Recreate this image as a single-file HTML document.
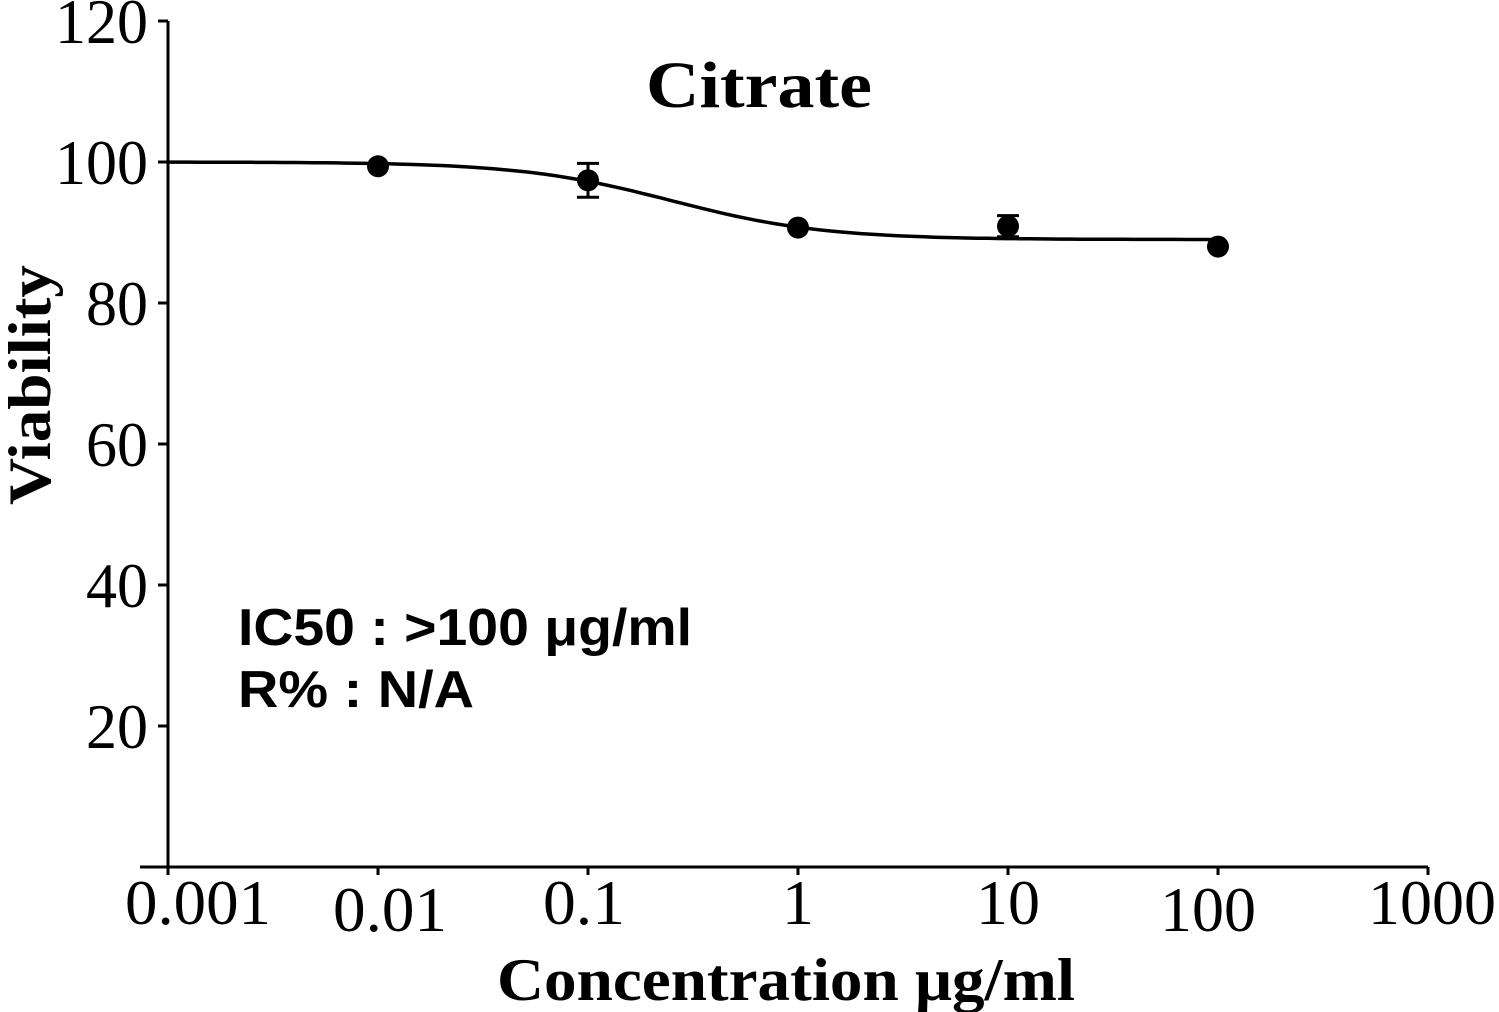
<!DOCTYPE html>
<html><head><meta charset="utf-8"><style>
html,body{margin:0;padding:0;background:#fff;}
svg{display:block;}
</style></head><body>
<svg id="chart" width="1499" height="1012" xmlns="http://www.w3.org/2000/svg">
<g id="axes"></g>
<g id="marks"></g>
<text x="759" y="107" text-anchor="middle" font-family="Liberation Serif, serif" font-weight="bold" font-size="66" textLength="226" lengthAdjust="spacingAndGlyphs">Citrate</text>
<text x="786" y="1000" text-anchor="middle" font-family="Liberation Serif, serif" font-weight="bold" font-size="60" textLength="578" lengthAdjust="spacingAndGlyphs">Concentration μg/ml</text>
<text transform="translate(50,385) rotate(-90)" text-anchor="middle" font-family="Liberation Serif, serif" font-weight="bold" font-size="60" textLength="240" lengthAdjust="spacingAndGlyphs">Viability</text>
<text x="238" y="645" font-family="Liberation Sans, sans-serif" font-weight="bold" font-size="52" textLength="454" lengthAdjust="spacingAndGlyphs">IC50 : &gt;100 μg/ml</text>
<text x="238" y="707" font-family="Liberation Sans, sans-serif" font-weight="bold" font-size="52" textLength="236" lengthAdjust="spacingAndGlyphs">R% : N/A</text>
</svg>
<script>
const xTicks = [0.001, 0.01, 0.1, 1, 10, 100, 1000];
const xTickLabels = ["0.001", "0.01", "0.1", "1", "10", "100", "1000"];
const yTicks = [0, 20, 40, 60, 80, 100, 120];
const yTickLabels = ["", "20", "40", "60", "80", "100", "120"];
const concentrations = [0.01, 0.1, 1, 10, 100];
const viability = [99.4, 97.4, 90.7, 90.9, 88.0];
const errors = [0.6, 2.4, 0.6, 1.5, 0.6];
const fitTop = [100];
const fitBottom = [89];
const fitLogEC50 = [-0.6];
const fitHill = [1.2];

const NS = "http://www.w3.org/2000/svg";
const X0 = 168, DEC = 210, Y0 = 867, YPER = 7.05;
function sx(v){ return X0 + (Math.log10(v) + 3) * DEC; }
function sy(v){ return Y0 - v * YPER; }
function mk(tag, attrs, parent){
  const e = document.createElementNS(NS, tag);
  for (const k in attrs) e.setAttribute(k, attrs[k]);
  parent.appendChild(e); return e;
}
function labW(s, per){ let w = 0; for (const ch of s) w += (ch === '.') ? 18 : per; return w; }
const axes = document.getElementById('axes');
const marks = document.getElementById('marks');
const ya = mk('line', {x1:X0, y1:sy(120), x2:X0, y2:Y0, stroke:'#000','stroke-width':3}, axes);


const xa = mk('line', {x1:140, y1:Y0, x2:sx(1000), y2:Y0, stroke:'#000','stroke-width':3}, axes);


const xOff = [0, 7, 0, 0, 0, 7, 0];
const xShift = [30, 12, -4, 0, 0, -10, 4];
xTicks.forEach((t, i) => {
  const tk = mk('line', {x1:sx(t), y1:Y0, x2:sx(t), y2:Y0+8, stroke:'#000','stroke-width':3}, axes);
  
  
  const lab = mk('text', {x:sx(t) + xShift[i], y:924 + xOff[i], 'text-anchor':'middle', 'font-family':'Liberation Serif, serif', 'font-size':63}, axes);
  lab.textContent = xTickLabels[i];
  lab.setAttribute('textLength', labW(xTickLabels[i], 32));
  lab.setAttribute('lengthAdjust', 'spacingAndGlyphs');
  
  
});
yTicks.forEach((t, i) => {
  const tk = mk('line', {x1:X0-10, y1:sy(t), x2:X0, y2:sy(t), stroke:'#000','stroke-width':3}, axes);
  
  
  if (yTickLabels[i]) {
    const lab = mk('text', {x:148, y:sy(t)+22, 'text-anchor':'end', 'font-family':'Liberation Serif, serif', 'font-size':63}, axes);
    lab.textContent = yTickLabels[i];
    lab.setAttribute('textLength', labW(yTickLabels[i], 31));
    lab.setAttribute('lengthAdjust', 'spacingAndGlyphs');
    
    
  }
});
let d = '';
for (let lx = -3; lx <= 2.0001; lx += 0.05) {
  const v = fitBottom[0] + (fitTop[0] - fitBottom[0]) / (1 + Math.pow(10, (lx - fitLogEC50[0]) * fitHill[0]));
  d += (d ? 'L' : 'M') + sx(Math.pow(10, lx)).toFixed(1) + ',' + sy(v).toFixed(1);
}
const curve = mk('path', {d:d, fill:'none', stroke:'#000', 'stroke-width':3.5}, marks);


concentrations.forEach((c, i) => {
  const x = sx(c), y = sy(viability[i]), e = errors[i];
  if (e > 1) {
    const eb = mk('path', {d:`M${x},${sy(viability[i]+e)}L${x},${sy(viability[i]-e)}M${x-11},${sy(viability[i]+e)}L${x+11},${sy(viability[i]+e)}M${x-11},${sy(viability[i]-e)}L${x+11},${sy(viability[i]-e)}`, stroke:'#000', 'stroke-width':3, fill:'none'}, marks);
    
    
  }
  const p = mk('circle', {cx:x, cy:y, r:11, fill:'#000'}, marks);
  
  
});
</script>
</body></html>
